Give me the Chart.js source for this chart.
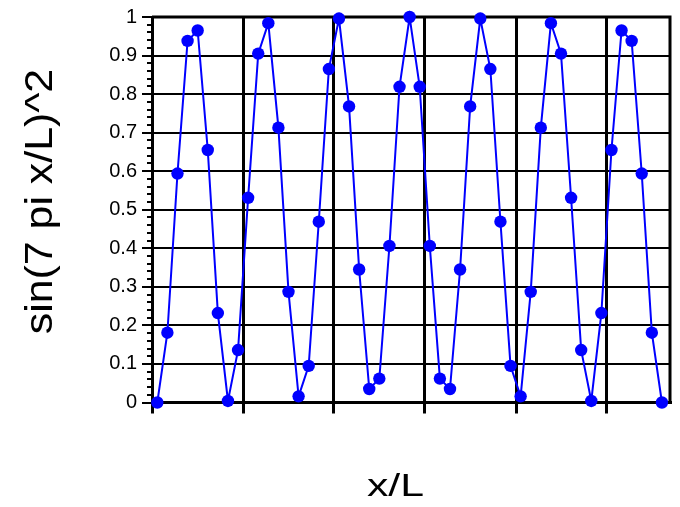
<!DOCTYPE html>
<html>
<head>
<meta charset="utf-8">
<script src="https://cdn.jsdelivr.net/npm/chart.js@4.4.0/dist/chart.umd.min.js"></script>
<style>
  body { margin: 0; background: #fff; }
  #wrap { width: 680px; height: 507px; }
</style>
</head>
<body>
<div id="wrap"><canvas id="chart" width="680" height="507"></canvas></div>
<script>
// sample positions (x/L)
const xValues = [0, 0.02, 0.04, 0.06, 0.08, 0.1, 0.12, 0.14, 0.16, 0.18,
    0.2, 0.22, 0.24, 0.26, 0.28, 0.3, 0.32, 0.34, 0.36, 0.38,
    0.4, 0.42, 0.44, 0.46, 0.48, 0.5, 0.52, 0.54, 0.56, 0.58,
    0.6, 0.62, 0.64, 0.66, 0.68, 0.7, 0.72, 0.74, 0.76, 0.78,
    0.8, 0.82, 0.84, 0.86, 0.88, 0.9, 0.92, 0.94, 0.96, 0.98, 1];

// values
const yValues = [0, 0.181, 0.594, 0.938, 0.965, 0.655, 0.232, 0.004, 0.136, 0.531,
    0.905, 0.984, 0.713, 0.287, 0.016, 0.095, 0.469, 0.865, 0.996, 0.768,
    0.345, 0.035, 0.062, 0.406, 0.819, 1, 0.819, 0.406, 0.062, 0.035,
    0.345, 0.768, 0.996, 0.865, 0.469, 0.095, 0.016, 0.287, 0.713, 0.984,
    0.905, 0.531, 0.136, 0.004, 0.232, 0.655, 0.965, 0.938, 0.594, 0.181, 0];

const yTicks = [0, 0.1, 0.2, 0.3, 0.4, 0.5, 0.6, 0.7, 0.8, 0.9, 1];
// vertical grid lines (no labels on the x axis)
const xGridTicks = [-0.0105, 0.17, 0.35, 0.53, 0.711, 0.891];

const FONT = 'Arial, "Liberation Sans", sans-serif';

// top/right frame and the small minor ticks on the y axis
const frame = {
    id: 'frame',
    beforeDatasetsDraw(chart) {
        const {ctx, chartArea} = chart;
        const yScale = chart.scales.y;
        ctx.save();
        ctx.strokeStyle = '#000';
        ctx.lineWidth = 3;
        ctx.beginPath();
        ctx.moveTo(chartArea.left, chartArea.top);
        ctx.lineTo(chartArea.right, chartArea.top);
        ctx.lineTo(chartArea.right, chartArea.bottom);
        ctx.stroke();

        ctx.lineWidth = 2;
        ctx.beginPath();
        for (let k = 0; k <= 50; k++) {
            if (k % 5 === 0) continue;
            const py = Math.round(yScale.getPixelForValue(k / 50));
            ctx.moveTo(chartArea.left - 5, py);
            ctx.lineTo(chartArea.left, py);
        }
        ctx.stroke();
        ctx.restore();
    }
};

// axis titles
const axisTitles = {
    id: 'axisTitles',
    afterDraw(chart) {
        const ctx = chart.ctx;
        ctx.save();
        ctx.fillStyle = '#000';
        ctx.textAlign = 'center';
        ctx.textBaseline = 'alphabetic';

        // y title, rotated
        ctx.font = '38px ' + FONT;
        let t = 'sin(7 pi x/L)^2';
        let m = ctx.measureText(t);
        let sx = 263 / (m.actualBoundingBoxLeft + m.actualBoundingBoxRight);
        ctx.save();
        ctx.translate(52, 201.5);
        ctx.rotate(-Math.PI / 2);
        ctx.scale(sx, 1);
        ctx.fillText(t, 0, 0);
        ctx.restore();

        // x title
        ctx.font = '32px ' + FONT;
        t = 'x/L';
        m = ctx.measureText(t);
        sx = 56 / (m.actualBoundingBoxLeft + m.actualBoundingBoxRight);
        ctx.save();
        ctx.translate(395.5, 496);
        ctx.scale(sx, 1);
        ctx.fillText(t, 0, 0);
        ctx.restore();
        ctx.restore();
    }
};

const ctx = document.getElementById('chart').getContext('2d');
new Chart(ctx, {
    type: 'line',
    data: {
        datasets: [{
            data: xValues.map((x, i) => ({x: x, y: yValues[i]})),
            borderColor: '#0000FF',
            backgroundColor: '#0000FF',
            borderWidth: 2,
            pointRadius: 6.2,
            pointBorderWidth: 0,
            pointBackgroundColor: '#0000FF',
            tension: 0,
            clip: false
        }]
    },
    options: {
        responsive: false,
        animation: false,
        layout: { padding: { top: 16, right: 10, left: 0, bottom: 0 } },
        plugins: {
            legend: { display: false },
            tooltip: { enabled: false }
        },
        scales: {
            x: {
                type: 'linear',
                min: -0.0105,
                max: 1.016,
                afterBuildTicks: s => { s.ticks = xGridTicks.map(v => ({value: v})); },
                ticks: { display: false },
                grid: { color: '#000', lineWidth: 3, tickLength: 11, tickColor: '#000' },
                border: { color: '#000', width: 3 },
                afterFit: s => { s.height = 104.5; }
            },
            y: {
                min: 0,
                max: 1,
                afterBuildTicks: s => { s.ticks = yTicks.map(v => ({value: v})); },
                ticks: {
                    color: '#000',
                    font: { family: FONT, size: 20 },
                    padding: 5,
                    callback: v => String(Math.round(v * 10) / 10)
                },
                grid: { color: '#000', lineWidth: 2, tickLength: 10, tickColor: '#000' },
                border: { color: '#000', width: 3 },
                afterFit: s => { s.width = 152; }
            }
        }
    },
    plugins: [frame, axisTitles]
});
</script>
</body>
</html>
